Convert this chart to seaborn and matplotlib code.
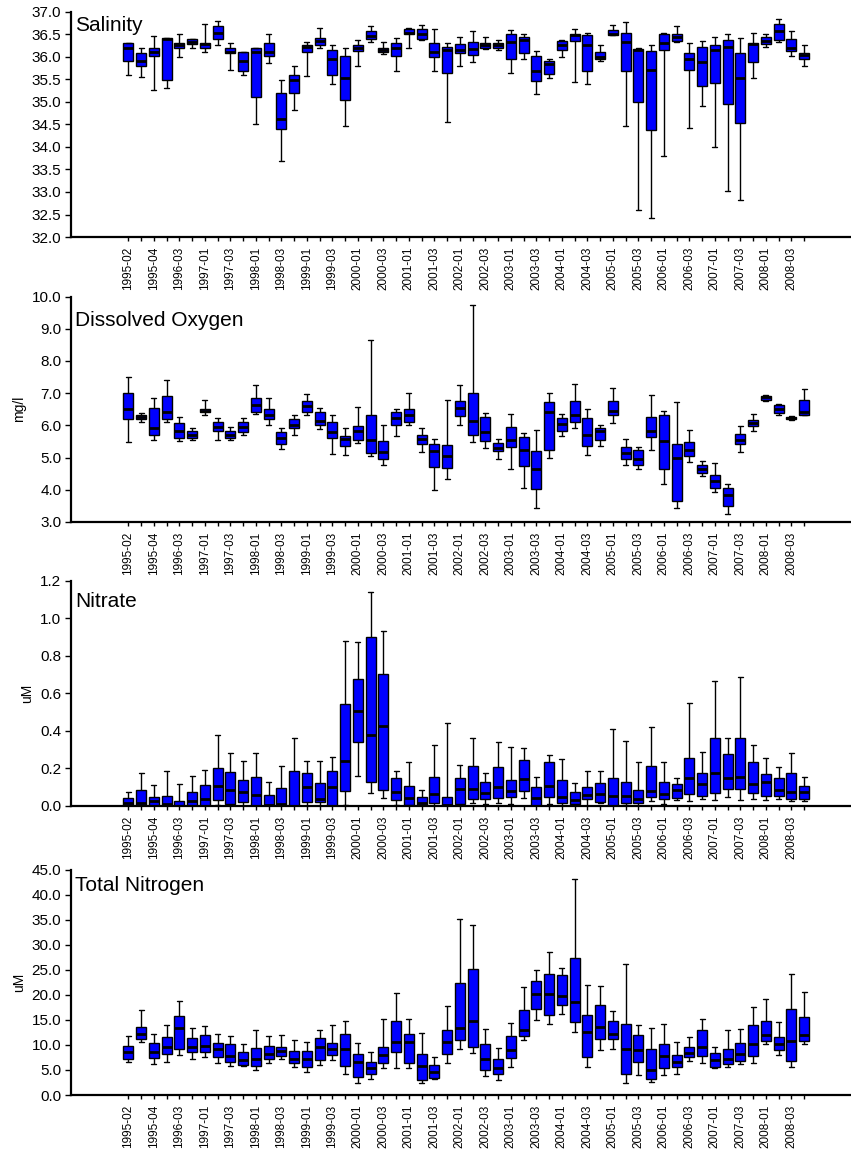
import numpy as np
import pandas as pd
import seaborn as sns
import matplotlib
matplotlib.use('Agg')
import matplotlib.pyplot as plt
from matplotlib.ticker import FormatStrFormatter

# sampling periods (year-season)
periods = ['1995-02', '1995-03', '1995-04', '1996-02', '1996-03', '1996-04',
           '1997-01', '1997-02', '1997-03', '1997-04', '1998-01', '1998-02',
           '1998-03', '1998-04', '1999-01', '1999-02', '1999-03', '1999-04',
           '2000-01', '2000-02', '2000-03', '2000-04', '2001-01', '2001-02',
           '2001-03', '2001-04', '2002-01', '2002-02', '2002-03', '2002-04',
           '2003-01', '2003-02', '2003-03', '2003-04', '2004-01', '2004-02',
           '2004-03', '2004-04', '2005-01', '2005-02', '2005-03', '2005-04',
           '2006-01', '2006-02', '2006-03', '2006-04', '2007-01', '2007-02',
           '2007-03', '2007-04', '2008-01', '2008-02', '2008-03', '2008-04']
tick_labels = [p if i % 2 == 0 else '' for i, p in enumerate(periods)]

# Salinity: whisker low, q1, median, q3, whisker high
sal_lo = [35.59, 35.55, 35.26, 35.31, 36.0, 36.2, 36.1, 36.25, 35.7, 35.6,
          34.5, 35.86, 33.69, 34.82, 35.57, 36.2, 35.39, 34.47, 35.8, 36.33,
          36.05, 35.68, 36.2, 36.37, 35.68, 34.56, 35.8, 35.89, 36.17, 36.15,
          35.65, 35.94, 35.18, 35.52, 35.99, 35.44, 35.39, 35.91, 36.48, 34.47,
          32.6, 32.42, 33.8, 36.33, 34.42, 34.9, 34.0, 33.02, 32.83, 35.52,
          36.22, 36.33, 36.02, 35.8]
sal_q1 = [35.91, 35.80, 36.01, 35.49, 36.2, 36.29, 36.2, 36.4, 36.09, 35.68,
          35.1, 36.02, 34.4, 35.2, 36.1, 36.25, 35.6, 35.04, 36.12, 36.4,
          36.1, 36.02, 36.5, 36.4, 35.99, 35.65, 36.08, 36.04, 36.2, 36.2,
          35.96, 36.08, 35.46, 35.62, 36.14, 36.35, 35.68, 35.96, 36.48, 35.68,
          34.99, 34.37, 36.14, 36.35, 35.7, 35.35, 35.41, 34.95, 34.53, 35.88,
          36.28, 36.38, 36.12, 35.94]
sal_med = [36.2, 35.91, 36.1, 36.39, 36.27, 36.33, 36.28, 36.52, 36.1, 35.91,
           36.1, 36.1, 34.61, 35.49, 36.21, 36.34, 35.96, 35.52, 36.19, 36.45,
           36.14, 36.2, 36.52, 36.5, 36.1, 36.15, 36.14, 36.17, 36.26, 36.25,
           36.33, 36.38, 35.68, 35.83, 36.25, 36.48, 36.25, 35.99, 36.5, 36.33,
           36.14, 35.7, 36.31, 36.43, 35.94, 35.88, 36.14, 36.22, 35.52, 36.28,
           36.35, 36.57, 36.2, 36.04]
sal_q3 = [36.3, 36.08, 36.19, 36.41, 36.3, 36.4, 36.3, 36.69, 36.2, 36.1,
          36.2, 36.3, 35.2, 35.59, 36.25, 36.41, 36.15, 36.01, 36.25, 36.56,
          36.2, 36.3, 36.61, 36.61, 36.3, 36.21, 36.28, 36.32, 36.3, 36.3,
          36.5, 36.43, 36.02, 35.91, 36.35, 36.5, 36.48, 36.11, 36.59, 36.53,
          36.17, 36.12, 36.5, 36.5, 36.08, 36.22, 36.25, 36.38, 36.08, 36.3,
          36.43, 36.72, 36.4, 36.08]
sal_hi = [36.3, 36.2, 36.46, 36.41, 36.5, 36.4, 36.72, 36.8, 36.3, 36.1,
          36.2, 36.5, 35.49, 35.8, 36.32, 36.64, 36.25, 36.2, 36.36, 36.68,
          36.32, 36.41, 36.63, 36.7, 36.61, 36.3, 36.43, 36.56, 36.43, 36.37,
          36.59, 36.5, 36.12, 35.96, 36.38, 36.61, 36.53, 36.25, 36.71, 36.77,
          36.2, 36.25, 36.53, 36.68, 36.3, 36.35, 36.43, 36.5, 36.41, 36.53,
          36.5, 36.84, 36.56, 36.25]

# Dissolved oxygen (mg/l)
do_lo = [5.47, 6.1, 5.55, 6.1, 5.5, 5.55, 6.33, 5.55, 5.55, 5.7,
         6.36, 6.0, 5.26, 5.7, 6.33, 5.89, 5.11, 5.08, 5.46, 5.04,
         4.78, 5.66, 6.0, 5.18, 3.99, 4.34, 6.0, 5.48, 5.29, 4.96,
         4.64, 4.05, 3.43, 5.0, 5.67, 5.93, 5.08, 5.37, 6.07, 4.78,
         4.64, 5.22, 4.17, 3.43, 4.85, 4.43, 3.94, 3.25, 5.18, 5.84,
         6.77, 6.33, 6.17, 6.33]
do_q1 = [6.2, 6.19, 5.7, 6.2, 5.6, 5.6, 6.4, 5.81, 5.6, 5.8,
         6.4, 6.2, 5.41, 5.93, 6.4, 6.0, 5.6, 5.35, 5.55, 5.14,
         4.96, 6.0, 6.1, 5.41, 4.71, 4.67, 6.28, 5.7, 5.51, 5.19,
         5.34, 4.75, 4.01, 5.25, 5.84, 6.1, 5.37, 5.54, 6.32, 4.96,
         4.78, 5.63, 4.63, 3.65, 5.04, 4.52, 4.05, 3.51, 5.41, 5.99,
         6.8, 6.39, 6.19, 6.33]
do_med = [6.5, 6.25, 5.93, 6.4, 5.81, 5.7, 6.45, 5.94, 5.71, 5.94,
          6.62, 6.32, 5.6, 6.0, 6.59, 6.14, 5.8, 5.57, 5.81, 5.55,
          5.18, 6.22, 6.33, 5.58, 5.19, 5.04, 6.54, 6.13, 5.78, 5.29,
          5.55, 5.22, 4.63, 6.4, 6.05, 6.32, 5.7, 5.81, 6.46, 5.15,
          4.96, 5.84, 5.51, 5.0, 5.22, 4.63, 4.27, 3.84, 5.55, 6.07,
          6.87, 6.5, 6.24, 6.42]
do_q3 = [7.0, 6.32, 6.54, 6.91, 6.07, 5.81, 6.5, 6.1, 5.81, 6.1,
         6.84, 6.5, 5.8, 6.2, 6.75, 6.43, 6.1, 5.66, 5.99, 6.33,
         5.51, 6.4, 6.5, 5.7, 5.41, 5.38, 6.75, 7.0, 6.25, 5.44,
         5.96, 5.63, 5.19, 6.72, 6.22, 6.75, 6.22, 5.92, 6.75, 5.34,
         5.22, 6.25, 6.32, 5.41, 5.48, 4.77, 4.45, 4.05, 5.74, 6.18,
         6.92, 6.62, 6.27, 6.8]
do_hi = [7.49, 6.39, 6.85, 7.42, 6.26, 5.92, 6.8, 6.22, 5.96, 6.22,
         7.24, 6.85, 5.93, 6.32, 6.97, 6.54, 6.32, 5.93, 6.58, 8.66,
         6.0, 6.5, 7.01, 5.92, 5.59, 6.8, 7.24, 9.75, 6.39, 5.58,
         6.35, 5.77, 5.85, 7.01, 6.35, 7.27, 6.5, 6.0, 7.16, 5.59,
         5.34, 6.94, 6.46, 6.72, 5.87, 4.89, 4.83, 4.17, 5.97, 6.36,
         6.95, 6.66, 6.29, 7.14]

# Nitrate (uM)
no3_lo = [0, 0, 0, 0, 0, 0, 0, 0.005, 0, 0,
          0, 0, 0, 0, 0, 0, 0, 0.007, 0.162, 0.071,
          0.043, 0.005, 0, 0, 0, 0, 0, 0.018, 0.012, 0.018,
          0.012, 0.043, 0, 0.012, 0, 0, 0, 0.018, 0, 0.004,
          0, 0.025, 0.012, 0.03, 0.025, 0.037, 0.032, 0.05, 0.032, 0.037,
          0.032, 0.037, 0.025, 0.025]
no3_q1 = [0, 0, 0, 0, 0, 0, 0, 0.03, 0.011, 0.021,
          0, 0, 0, 0, 0.021, 0.021, 0, 0.082, 0.338, 0.13,
          0.087, 0.03, 0.005, 0.004, 0.018, 0.004, 0.011, 0.037, 0.037, 0.043,
          0.048, 0.082, 0.002, 0.05, 0.018, 0.012, 0.037, 0.023, 0.002, 0.018,
          0.018, 0.048, 0.037, 0.043, 0.062, 0.055, 0.069, 0.092, 0.092, 0.069,
          0.055, 0.055, 0.037, 0.037]
no3_med = [0.016, 0.018, 0.027, 0.011, 0.002, 0.027, 0.037, 0.105, 0.087, 0.075,
           0.06, 0.007, 0.011, 0.001, 0.101, 0.037, 0.101, 0.238, 0.507, 0.377,
           0.425, 0.075, 0.041, 0.018, 0.062, 0.007, 0.092, 0.092, 0.069, 0.1,
           0.08, 0.144, 0.041, 0.105, 0.05, 0.032, 0.06, 0.062, 0.055, 0.055,
           0.037, 0.08, 0.062, 0.087, 0.149, 0.117, 0.176, 0.149, 0.155, 0.117,
           0.126, 0.087, 0.075, 0.075]
no3_q3 = [0.044, 0.087, 0.05, 0.055, 0.027, 0.076, 0.112, 0.204, 0.183, 0.137,
          0.156, 0.06, 0.098, 0.187, 0.176, 0.124, 0.187, 0.544, 0.676, 0.901,
          0.70, 0.149, 0.105, 0.05, 0.155, 0.05, 0.149, 0.213, 0.13, 0.206,
          0.137, 0.244, 0.1, 0.233, 0.137, 0.076, 0.1, 0.124, 0.149, 0.13,
          0.087, 0.213, 0.13, 0.117, 0.256, 0.176, 0.363, 0.276, 0.363, 0.233,
          0.169, 0.149, 0.176, 0.107]
no3_hi = [0.076, 0.176, 0.112, 0.187, 0.119, 0.162, 0.194, 0.377, 0.283, 0.238,
          0.283, 0.126, 0.213, 0.364, 0.238, 0.238, 0.261, 0.878, 0.871, 1.141,
          0.933, 0.187, 0.233, 0.087, 0.327, 0.444, 0.219, 0.364, 0.176, 0.34,
          0.313, 0.306, 0.155, 0.27, 0.251, 0.124, 0.187, 0.187, 0.407, 0.345,
          0.233, 0.421, 0.233, 0.149, 0.546, 0.288, 0.667, 0.363, 0.688, 0.327,
          0.256, 0.206, 0.283, 0.155]

# Total nitrogen (uM)
tn_lo = [6.53, 10.53, 6.13, 6.53, 8.0, 7.27, 7.53, 6.33, 5.87, 5.87,
         4.93, 6.33, 7.27, 5.6, 4.67, 6.07, 7.0, 4.2, 2.33, 3.27,
         5.33, 5.33, 5.33, 2.33, 3.27, 6.33, 9.13, 8.47, 3.73, 3.07,
         5.6, 11.07, 15.07, 14.13, 16.27, 12.67, 5.6, 8.93, 9.13, 2.33,
         4.0, 2.53, 4.0, 4.2, 6.8, 6.33, 5.4, 5.6, 6.13, 6.33,
         10.13, 8.0, 5.6, 10.13]
tn_q1 = [7.27, 11.2, 7.47, 8.2, 9.13, 8.67, 8.53, 7.53, 6.53, 6.0,
         5.87, 7.2, 7.73, 6.33, 5.6, 7.0, 7.93, 5.87, 3.67, 4.2,
         6.33, 8.67, 6.33, 2.93, 3.4, 8.2, 11.07, 9.67, 4.93, 4.2,
         7.47, 11.8, 17.07, 16.0, 17.93, 14.6, 7.53, 11.27, 11.27, 4.2,
         6.6, 3.27, 5.4, 5.67, 7.53, 7.73, 5.6, 6.13, 6.8, 7.73,
         10.8, 8.93, 6.8, 10.8]
tn_med = [8.53, 12.13, 8.53, 9.67, 13.4, 9.67, 9.87, 9.2, 7.8, 7.0,
          7.27, 8.13, 8.73, 7.2, 7.2, 9.67, 9.2, 9.2, 6.53, 5.33,
          8.0, 10.67, 10.53, 5.8, 4.53, 10.6, 13.4, 14.87, 7.27, 5.4,
          8.93, 12.93, 20.07, 20.07, 19.8, 18.6, 12.67, 13.67, 12.27, 9.2,
          8.93, 4.93, 7.73, 6.53, 8.47, 9.67, 7.0, 7.27, 8.2, 10.13,
          12.07, 10.13, 10.87, 12.07]
tn_q3 = [9.87, 13.67, 10.33, 11.67, 15.8, 11.47, 12.0, 10.33, 10.13, 8.53,
         9.33, 9.87, 9.67, 8.73, 8.73, 11.47, 10.33, 12.27, 8.2, 6.53,
         9.6, 14.8, 12.27, 8.27, 5.93, 12.93, 22.33, 25.2, 10.13, 7.27,
         11.73, 16.93, 22.73, 24.2, 23.93, 27.27, 16.0, 17.93, 14.8, 14.13,
         12.0, 9.13, 10.13, 8.0, 9.6, 12.93, 8.47, 9.13, 10.33, 13.93,
         14.8, 11.53, 17.13, 15.53]
tn_hi = [11.87, 16.87, 12.27, 14.07, 18.67, 13.4, 13.87, 12.27, 11.8, 10.13,
         12.93, 11.8, 12.0, 11.07, 10.6, 12.93, 14.07, 14.8, 10.33, 8.67,
         15.27, 20.33, 15.27, 12.47, 7.53, 17.73, 35.07, 33.87, 13.2, 9.4,
         14.33, 21.47, 24.93, 28.47, 25.4, 43.07, 21.93, 21.67, 16.73, 26.13,
         13.93, 13.4, 14.13, 10.6, 11.53, 15.13, 9.67, 12.93, 13.2, 17.47,
         19.07, 14.6, 24.07, 20.53]


def long_form(lo, q1, med, q3, hi):
    # five points per period reproduce the box stats exactly (whis=(0, 100))
    rows = []
    for i, p in enumerate(periods):
        for v in (lo[i], q1[i], med[i], q3[i], hi[i]):
            rows.append((p, v))
    return pd.DataFrame(rows, columns=['period', 'value'])


panels = [
    ('Salinity', '', long_form(sal_lo, sal_q1, sal_med, sal_q3, sal_hi),
     (32.0, 37.0), np.arange(32.0, 37.01, 0.5), 0.982),
    ('Dissolved Oxygen', 'mg/l', long_form(do_lo, do_q1, do_med, do_q3, do_hi),
     (3.0, 10.0), np.arange(3.0, 10.01, 1.0), 0.935),
    ('Nitrate', 'uM', long_form(no3_lo, no3_q1, no3_med, no3_q3, no3_hi),
     (0.0, 1.2), np.arange(0.0, 1.21, 0.2), 0.948),
    ('Total Nitrogen', 'uM', long_form(tn_lo, tn_q1, tn_med, tn_q3, tn_hi),
     (0.0, 45.0), np.arange(0.0, 45.01, 5.0), 0.97),
]

sns.set_style('ticks')
plt.rcParams['font.family'] = ['Liberation Sans', 'DejaVu Sans']
plt.rcParams.update({'text.color': 'black', 'axes.labelcolor': 'black',
                     'xtick.color': 'black', 'ytick.color': 'black',
                     'axes.edgecolor': 'black'})

fig = plt.figure(figsize=(8.51, 11.53), dpi=100)
bottoms = [0.7944, 0.5473, 0.3010, 0.0503]
height = 0.1955

for (title, ylabel, df, ylim, yticks, ty), b in zip(panels, bottoms):
    ax = fig.add_axes([0.0834, b, 0.9155, height])
    sns.boxplot(data=df, x='period', y='value', order=periods, ax=ax,
                whis=(0, 100), width=0.78, color='#0000ff', saturation=1,
                linecolor='black', linewidth=1, showfliers=False,
                medianprops=dict(linewidth=2))
    ax.set_xlim(-4.5, 56.6)
    ax.set_ylim(*ylim)
    ax.set_yticks(yticks)
    ax.yaxis.set_major_formatter(FormatStrFormatter('%.1f'))
    ax.set_xticks(range(len(periods)))
    ax.set_xticklabels(tick_labels, rotation=90, fontsize=8.5)
    ax.tick_params(axis='y', labelsize=11, length=4, width=1, pad=3)
    ax.tick_params(axis='x', length=3, width=1, pad=4)
    ax.set_xlabel('')
    ax.set_ylabel(ylabel, fontsize=10)
    for side in ['top', 'right']:
        ax.spines[side].set_visible(False)
    for side in ['left', 'bottom']:
        ax.spines[side].set_linewidth(1.6)
    ax.text(0.005, ty, title, transform=ax.transAxes, fontsize=15,
            ha='left', va='top')

fig.savefig('out.png', dpi=100)
